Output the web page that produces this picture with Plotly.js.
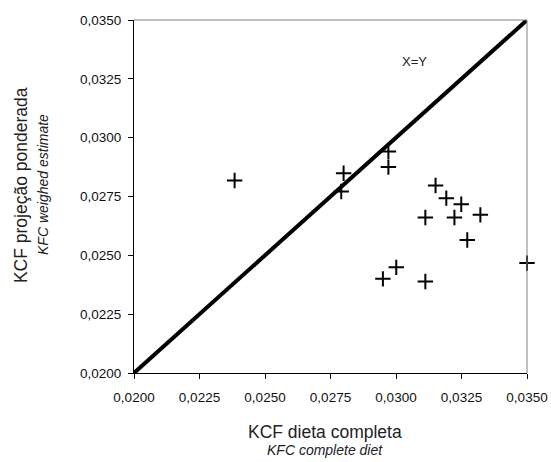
<!DOCTYPE html>
<html>
<head>
<meta charset="utf-8">
<script src="https://cdn.plot.ly/plotly-3.0.1.min.js"></script>
<style>html,body{margin:0;padding:0;background:#fff;}#chart{width:551px;height:462px;}</style>
</head>
<body>
<div id="chart"></div>
<script>
// KCF dieta completa (x) vs KCF projeção ponderada (y)
const kcfComplete = [0.02384, 0.02800, 0.02791, 0.02971, 0.02971, 0.03151, 0.03192, 0.03249, 0.03112, 0.03223, 0.03322, 0.03272, 0.02950, 0.03001, 0.03112, 0.03500];
const kcfWeighed  = [0.02818, 0.02849, 0.02771, 0.02941, 0.02875, 0.02797, 0.02743, 0.02717, 0.02661, 0.02661, 0.02672, 0.02565, 0.02400, 0.02449, 0.02389, 0.02467];
const identityLine = [0.0200, 0.0350];
const tickValues = [0.0200, 0.0225, 0.0250, 0.0275, 0.0300, 0.0325, 0.0350];

const font = 'Arial, "Liberation Sans", sans-serif';

const traces = [
  {x: identityLine, y: identityLine, mode: 'lines', line: {color: '#000', width: 4}, hoverinfo: 'skip', showlegend: false, cliponaxis: false},
  {x: kcfComplete, y: kcfWeighed, mode: 'markers', type: 'scatter',
   marker: {symbol: 'cross-thin-open', size: 11, color: '#000', line: {color: '#000', width: 2}},
   showlegend: false, cliponaxis: false}
];

function axisSpec(standoff) {
  return {
    range: [0.0200, 0.0350], tickmode: 'array', tickvals: tickValues, tickformat: '.4f',
    showgrid: false, zeroline: false, showline: true, linecolor: '#000', linewidth: 1,
    ticks: 'outside', ticklen: 5, tickcolor: '#000', tickwidth: 1,
    tickfont: {family: 'Liberation Sans', size: 13.5, color: '#111'},
    ticklabelstandoff: standoff, fixedrange: true
  };
}

const layout = {
  width: 551, height: 462,
  margin: {l: 134, r: 24, t: 20, b: 89},
  paper_bgcolor: '#fff', plot_bgcolor: '#fff',
  separators: ', ',
  font: {family: font, size: 13.5, color: '#222'},
  xaxis: axisSpec(7),
  yaxis: axisSpec(4),
  shapes: [
    {type: 'line', xref: 'paper', yref: 'paper', x0: 0, x1: 1, y0: 1, y1: 1, line: {color: '#808080', width: 1}},
    {type: 'line', xref: 'paper', yref: 'paper', x0: 1, x1: 1, y0: 0, y1: 1, line: {color: '#808080', width: 1}}
  ],
  annotations: [
    {text: 'X=Y', x: 0.03071, y: 0.03322, xref: 'x', yref: 'y', showarrow: false, font: {family: font, size: 13, color: '#222'}},
    {text: 'KCF dieta completa', xref: 'paper', yref: 'paper', x: 0.485, y: -0.168, yanchor: 'middle', showarrow: false, font: {family: font, size: 17.5, color: '#222'}},
    {text: '<i>KFC complete diet</i>', xref: 'paper', yref: 'paper', x: 0.485, y: -0.217, yanchor: 'middle', showarrow: false, font: {family: font, size: 14, color: '#222'}},
    {text: 'KCF projeção ponderada', xref: 'paper', yref: 'paper', x: -0.287, y: 0.533, xanchor: 'center', yanchor: 'middle', textangle: -90, showarrow: false, font: {family: font, size: 17.5, color: '#222'}},
    {text: '<i>KFC weighed estimate</i>', xref: 'paper', yref: 'paper', x: -0.232, y: 0.535, xanchor: 'center', yanchor: 'middle', textangle: -90, showarrow: false, font: {family: font, size: 14, color: '#222'}}
  ]
};

Plotly.newPlot('chart', traces, layout, {displayModeBar: false, staticPlot: true});
</script>
</body>
</html>
